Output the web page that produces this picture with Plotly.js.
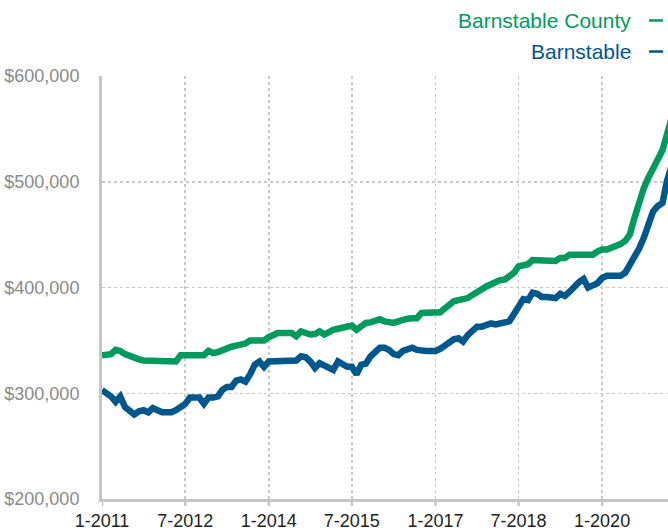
<!DOCTYPE html>
<html>
<head>
<meta charset="utf-8">
<script src="https://cdn.plot.ly/plotly-3.0.1.min.js"></script>
<style>
  html, body { margin: 0; padding: 0; background: #ffffff; }
  #chart { width: 668px; height: 531px; }
</style>
</head>
<body>
<div id="chart"></div>
<script>
// Monthly series starting January 2011 (values in USD)
const startYear = 2011;
const startMonth = 1;

const seriesNames = ["Barnstable County", "Barnstable"];

const countyValues = [
  336000, 337000, 337000, 341000, 340000, 337000, 335000, 334000, 332000, 331000, 331000, 330000,
  330000, 330000, 330000, 330000, 330000, 336000, 336000, 336000, 336000, 336000, 336000, 340000,
  338000, 339000, 341000, 342000, 344000, 345000, 346000, 347000, 350000, 350000, 350000, 350000,
  353000, 355000, 357000, 357000, 357000, 357000, 354000, 358500, 357000, 355500, 356000, 358500,
  355500, 358000, 360000, 361000, 362000, 363000, 364000, 360000, 364000, 366500, 367000, 369000,
  370000, 368000, 366500, 366500, 368000, 370000, 370500, 371000, 371000, 376000, 376000, 376000,
  376000, 376500, 380000, 384000, 387000, 388000, 389000, 390000, 393000, 396000, 398000, 401000,
  403000, 406000, 407000, 407500, 410000, 414000, 420000, 421000, 422000, 426000, 426000, 425000,
  425000, 425000, 425000, 428000, 428000, 431000, 431000, 431000, 431000, 431000, 431000, 434000,
  436000, 436000, 437500, 439000, 441000, 444000, 450000, 466000, 481000, 494000, 504000, 514000,
  521000, 530000, 545000, 560000
];

const townValues = [
  303000, 300000, 297000, 292000, 297000, 287000, 284000, 280000, 283000, 284000, 282000, 286000,
  284000, 282000, 282000, 282000, 284000, 287000, 290000, 296000, 296000, 296000, 290000, 296000,
  296000, 297000, 303000, 306000, 306000, 312000, 313000, 311000, 318000, 327000, 330000, 325000,
  330000, 330000, 330000, 330000, 330000, 330000, 331000, 335000, 334000, 330000, 324000, 328500,
  326000, 324000, 322000, 330000, 328000, 325000, 325000, 318000, 327000, 328000, 335000, 340000,
  343000, 343000, 341000, 337000, 336000, 340000, 341000, 343000, 341000, 340000, 340000, 340000,
  340000, 342000, 345000, 348000, 351000, 352000, 349000, 355000, 360000, 363000, 363000, 365000,
  366000, 365000, 366000, 367000, 368000, 375000, 383000, 389000, 388000, 395000, 394000, 391000,
  391000, 390000, 390000, 394000, 392000, 396000, 401000, 405000, 408000, 400000, 402000, 404000,
  409000, 411000, 411000, 411000, 411000, 414000, 421000, 428000, 437000, 447000, 460000, 472000,
  477000, 480000, 500000, 515000
];

const xTickVals = ["2011-01-01", "2012-07-01", "2014-01-01", "2015-07-01", "2017-01-01", "2018-07-01", "2020-01-01"];
const xTickText = ["1-2011", "7-2012", "1-2014", "7-2015", "1-2017", "7-2018", "1-2020"];
const yTickVals = [200000, 300000, 400000, 500000, 600000];
const yTickText = ["$200,000", "$300,000", "$400,000", "$500,000", "$600,000"];

// Month dates for the x axis
const months = [];
for (let i = 0; i < countyValues.length; i++) {
  const y = startYear + Math.floor((startMonth - 1 + i) / 12);
  const m = ((startMonth - 1 + i) % 12) + 1;
  months.push(y + "-" + String(m).padStart(2, "0") + "-01");
}

const green = "#009a5f";
const blue = "#00578b";
const axisGray = "#c6c6c6";
const gridGray = "#c9c9c9";
const fontFam = "'Liberation Sans', Arial, Helvetica, sans-serif";
const plotH = 423;

const traces = [
  {
    x: months, y: countyValues, name: seriesNames[0], type: "scatter", mode: "lines",
    line: { color: green, width: 6.5, shape: "linear" }, hoverinfo: "skip"
  },
  {
    x: months, y: townValues, name: seriesNames[1], type: "scatter", mode: "lines",
    line: { color: blue, width: 6.5, shape: "linear" }, hoverinfo: "skip"
  }
];

// outward tick marks on the x axis, placed at the tick values
const tickShapes = xTickVals.map(v => ({
  type: "line", xref: "x", yref: "paper", x0: v, x1: v,
  y0: 0, y1: -7 / plotH, line: { color: axisGray, width: 2.5 }, layer: "above"
}));

const layout = {
  width: 668, height: 531,
  margin: { l: 102, r: 0, t: 76, b: 32, pad: 0 },
  paper_bgcolor: "#ffffff", plot_bgcolor: "#ffffff",
  showlegend: false,
  font: { family: fontFam },
  xaxis: {
    type: "date",
    range: ["2011-01-01", "2021-03-09"],
    tickvals: xTickVals, ticktext: xTickText,
    tickfont: { family: fontFam, size: 18, color: "#231f20" },
    showline: true, linecolor: axisGray, linewidth: 3,
    ticks: "", ticklabelstandoff: 3,
    showgrid: true, gridcolor: gridGray, gridwidth: 1.5, griddash: "dot",
    zeroline: false, fixedrange: true
  },
  yaxis: {
    range: [200000, 600000],
    tickvals: yTickVals, ticktext: yTickText,
    tickfont: { family: fontFam, size: 18, color: "#8a8a8a" },
    showline: true, linecolor: axisGray, linewidth: 3,
    ticks: "", ticklabelstandoff: 16,
    showgrid: true, gridcolor: gridGray, gridwidth: 1.5, griddash: "dot",
    zeroline: false, fixedrange: true
  },
  annotations: [
    {
      xref: "paper", yref: "paper", x: (633 - 102) / 566, y: (499 - 20) / plotH,
      xanchor: "right", yanchor: "middle", showarrow: false,
      text: seriesNames[0], font: { family: fontFam, size: 21, color: green }
    },
    {
      xref: "paper", yref: "paper", x: (633 - 102) / 566, y: (499 - 51) / plotH,
      xanchor: "right", yanchor: "middle", showarrow: false,
      text: seriesNames[1], font: { family: fontFam, size: 21, color: blue }
    }
  ],
  shapes: [
    {
      type: "line", xref: "paper", yref: "paper",
      x0: (649 - 102) / 566, x1: (663 - 102) / 566,
      y0: (499 - 20.5) / plotH, y1: (499 - 20.5) / plotH,
      line: { color: green, width: 2.5 }
    },
    {
      type: "line", xref: "paper", yref: "paper",
      x0: (649 - 102) / 566, x1: (663 - 102) / 566,
      y0: (499 - 51.5) / plotH, y1: (499 - 51.5) / plotH,
      line: { color: blue, width: 2.5 }
    }
  ].concat(tickShapes)
};

Plotly.newPlot("chart", traces, layout, { displayModeBar: false, staticPlot: true });
</script>
</body>
</html>
